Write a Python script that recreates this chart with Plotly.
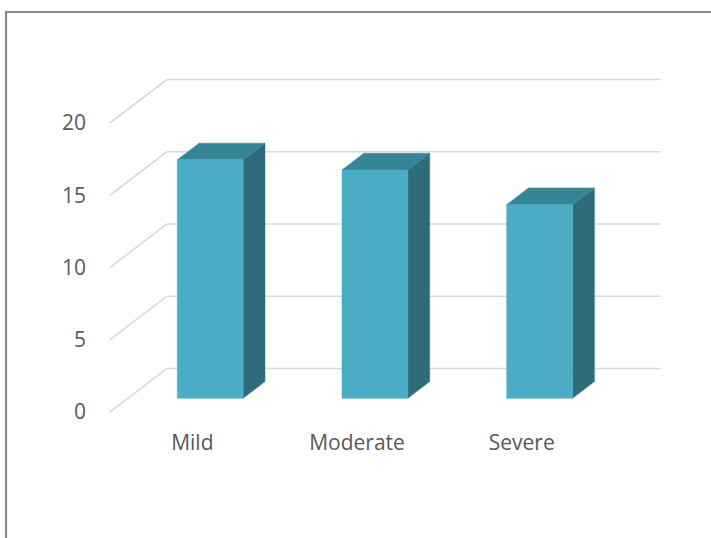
import plotly.graph_objects as go

# ---- data ----
categories = ["Mild", "Moderate", "Severe"]
values = [16.5, 15.8, 13.4]
y_ticks = [0, 5, 10, 15, 20]
y_ticklabels = ["0", "5", "10", "15", "20"]

# ---- pseudo-3D geometry (in data units) ----
DX = 0.3443   # full floor depth, x offset (category units)
DY = 3.01     # full floor depth, y offset (value units)
D0, D1 = 0.315, 0.70   # bar depth span (fraction of floor depth)
HW = 0.2      # half bar width (category units)

FRONT = "#4BACC6"
TOP = "#368597"
SIDE = "#2E6C7C"
GRID = "#D9D9D9"
TXT = "#595959"
FONT = "Open Sans"

fig = go.Figure()
shapes = []

# back-wall gridlines and left-wall diagonals
for v in y_ticks:
    shapes.append(dict(type="line", xref="x", yref="y", layer="below",
                       x0=DX, x1=len(categories) + DX, y0=v + DY, y1=v + DY,
                       line=dict(color=GRID, width=1.6)))
    shapes.append(dict(type="line", xref="x", yref="y", layer="below",
                       x0=0, x1=DX, y0=v, y1=v + DY,
                       line=dict(color=GRID, width=1.6)))

# bars
dd = D1 - D0
centers = [i + 0.5 for i in range(len(categories))]
for c, v in zip(centers, values):
    xl = c - HW + D0 * DX
    xr = c + HW + D0 * DX
    yb = D0 * DY
    yt = yb + v
    # side face
    fig.add_trace(go.Scatter(
        x=[xr, xr + dd * DX, xr + dd * DX, xr, xr],
        y=[yb, yb + dd * DY, yt + dd * DY, yt, yb],
        mode="lines", fill="toself", fillcolor=SIDE,
        line=dict(width=0.5, color=SIDE), hoverinfo="skip", showlegend=False))
    # top face
    fig.add_trace(go.Scatter(
        x=[xl, xr, xr + dd * DX, xl + dd * DX, xl],
        y=[yt, yt, yt + dd * DY, yt + dd * DY, yt],
        mode="lines", fill="toself", fillcolor=TOP,
        line=dict(width=0.5, color=TOP), hoverinfo="skip", showlegend=False))
    # front face
    fig.add_trace(go.Scatter(
        x=[xl, xr, xr, xl, xl],
        y=[yb, yb, yt, yt, yb],
        mode="lines", fill="toself", fillcolor=FRONT,
        line=dict(width=0.5, color=FRONT), hoverinfo="skip", showlegend=False))

# outer frame (chart border)
L, R, T, B = 100, 11, 60, 112
W, H = 711, 538
pw, ph = W - L - R, H - T - B
shapes.append(dict(type="rect", xref="paper", yref="paper", layer="above",
                   x0=(6 - L) / pw, x1=(W + 60 - L) / pw,
                   y0=(H - B - (H + 60)) / ph, y1=(H - B - 12) / ph,
                   line=dict(color="#898989", width=2.2)))

px_per_cat = 164.7
px_per_val = 14.45
fig.update_layout(
    width=W, height=H, autosize=False,
    margin=dict(l=L, r=R, t=T, b=B),
    paper_bgcolor="white", plot_bgcolor="white",
    shapes=shapes,
    showlegend=False,
    xaxis=dict(range=[(L - 110) / px_per_cat, (W - R - 110) / px_per_cat],
               tickvals=centers, ticktext=categories,
               showgrid=False, zeroline=False, showline=False,
               tickfont=dict(family=FONT, size=21, color=TXT),
               ticklabelstandoff=2, fixedrange=True),
    yaxis=dict(range=[(412 - (H - B)) / px_per_val, (412 - T) / px_per_val],
               tickvals=y_ticks, ticktext=y_ticklabels,
               showgrid=False, zeroline=False, showline=False,
               tickfont=dict(family=FONT, size=21, color=TXT),
               ticklabelstandoff=13, fixedrange=True),
)

fig.write_html("out.html")
